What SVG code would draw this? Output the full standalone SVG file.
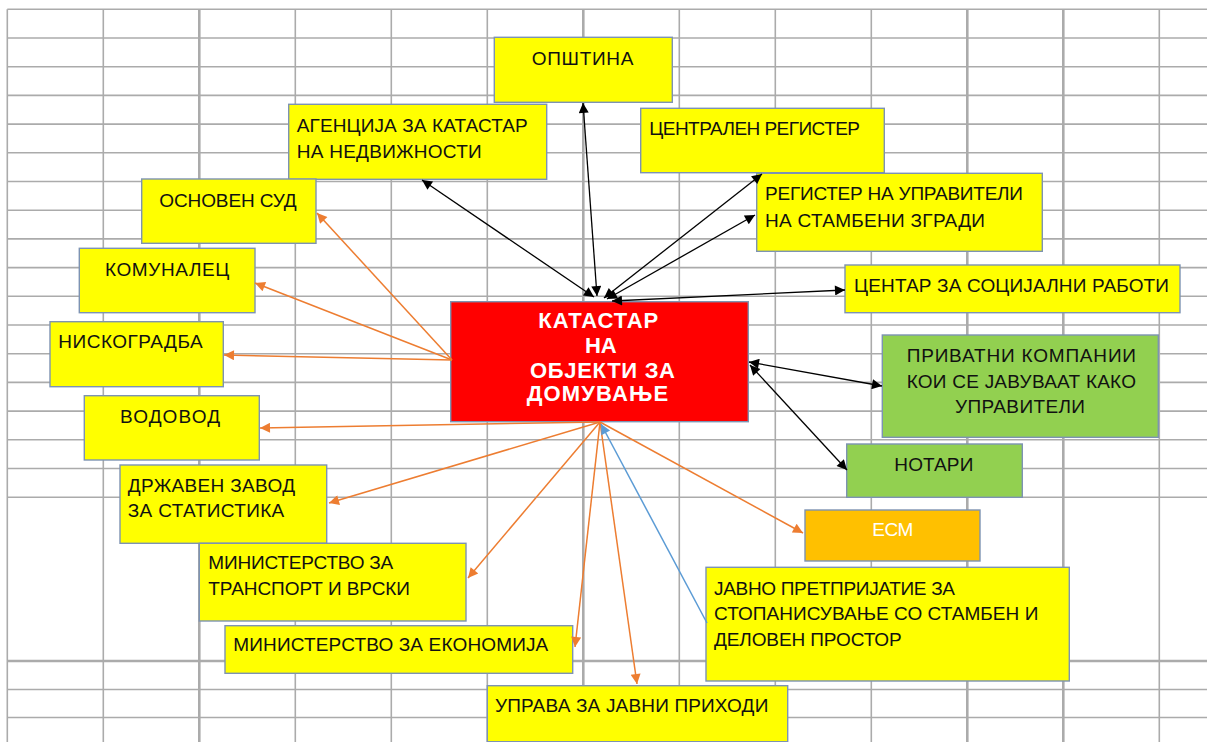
<svg xmlns="http://www.w3.org/2000/svg" width="1207" height="742" viewBox="0 0 1207 742">
<defs>
<style>
.grid line{stroke:#ababab;stroke-width:1.6}
.grid line.thick{stroke-width:2.6}
.box{stroke:#7d93b2;stroke-width:1.4}
.y{fill:#ffff00}
.g{fill:#92d050}
.o{fill:#ffc000}
.r{fill:#ff0000}
.t{font-family:"Liberation Sans",Arial,sans-serif;font-size:19px;fill:#111}
.w{font-family:"Liberation Sans",Arial,sans-serif;font-size:19px;fill:#ffffff}
.c{font-family:"Liberation Sans",Arial,sans-serif;font-size:22px;font-weight:bold;fill:#ffffff}
.kb{stroke:#000;stroke-width:1.3;fill:none;marker-start:url(#ab);marker-end:url(#ab)}
.ko{stroke:#ed7d31;stroke-width:1.5;fill:none;marker-end:url(#ao)}
.kl{stroke:#5b9bd5;stroke-width:1.5;fill:none;marker-end:url(#al)}
</style>
<marker id="ab" viewBox="0 0 10 10" refX="10" refY="5" markerWidth="13" markerHeight="10" markerUnits="userSpaceOnUse" orient="auto-start-reverse"><path d="M0,0 L10,5 L0,10 z" fill="#000"/></marker>
<marker id="ao" viewBox="0 0 10 10" refX="10" refY="5" markerWidth="13" markerHeight="10" markerUnits="userSpaceOnUse" orient="auto"><path d="M0,0 L10,5 L0,10 z" fill="#ed7d31"/></marker>
<marker id="al" viewBox="0 0 10 10" refX="10" refY="5" markerWidth="13" markerHeight="10" markerUnits="userSpaceOnUse" orient="auto"><path d="M0,0 L10,5 L0,10 z" fill="#5b9bd5"/></marker>
</defs>
<rect width="1207" height="742" fill="#ffffff"/>
<g class="grid">
<line x1="7.3" y1="9.3" x2="7.3" y2="742"/>
<line x1="103.3" y1="9.3" x2="103.3" y2="742"/>
<line class="thick" x1="199.3" y1="9.3" x2="199.3" y2="742"/>
<line x1="295.3" y1="9.3" x2="295.3" y2="742"/>
<line x1="391.3" y1="9.3" x2="391.3" y2="742"/>
<line x1="487.3" y1="9.3" x2="487.3" y2="742"/>
<line class="thick" x1="583.3" y1="9.3" x2="583.3" y2="742"/>
<line x1="679.3" y1="9.3" x2="679.3" y2="742"/>
<line x1="775.3" y1="9.3" x2="775.3" y2="742"/>
<line x1="871.3" y1="9.3" x2="871.3" y2="742"/>
<line class="thick" x1="967.3" y1="9.3" x2="967.3" y2="742"/>
<line class="thick" x1="1063.3" y1="9.3" x2="1063.3" y2="742"/>
<line x1="1159.3" y1="9.3" x2="1159.3" y2="742"/>
<line x1="7.3" y1="9.3" x2="1207" y2="9.3"/>
<line x1="7.3" y1="38" x2="1207" y2="38"/>
<line x1="7.3" y1="66.7" x2="1207" y2="66.7"/>
<line x1="7.3" y1="95.4" x2="1207" y2="95.4"/>
<line x1="7.3" y1="124.1" x2="1207" y2="124.1"/>
<line x1="7.3" y1="152.8" x2="1207" y2="152.8"/>
<line x1="7.3" y1="181.5" x2="1207" y2="181.5"/>
<line x1="7.3" y1="210.2" x2="1207" y2="210.2"/>
<line x1="7.3" y1="238.9" x2="1207" y2="238.9"/>
<line x1="7.3" y1="267.6" x2="1207" y2="267.6"/>
<line x1="7.3" y1="296.3" x2="1207" y2="296.3"/>
<line x1="7.3" y1="325" x2="1207" y2="325"/>
<line x1="7.3" y1="353.7" x2="1207" y2="353.7"/>
<line x1="7.3" y1="382.4" x2="1207" y2="382.4"/>
<line x1="7.3" y1="411.1" x2="1207" y2="411.1"/>
<line x1="7.3" y1="439.8" x2="1207" y2="439.8"/>
<line x1="7.3" y1="468.5" x2="1207" y2="468.5"/>
<line x1="7.3" y1="497.2" x2="1207" y2="497.2"/>
<line class="thick" x1="7.3" y1="661" x2="1207" y2="661"/>
<line x1="7.3" y1="689.5" x2="1207" y2="689.5"/>
<line x1="7.3" y1="717.5" x2="1207" y2="717.5"/>
</g>
<g id="nodes">
<g id="opstina"><rect class="box y" x="494.3" y="37.3" width="178" height="65"/><text class="t" x="531.7" y="64.5" textLength="101.7" lengthAdjust="spacing">ОПШТИНА</text></g>
<g id="agencija"><rect class="box y" x="288.7" y="104.3" width="258" height="75"/><text class="t" x="296.7" y="132.3" textLength="231" lengthAdjust="spacing">АГЕНЦИЈА ЗА КАТАСТАР</text><text class="t" x="296.7" y="158.3" textLength="185" lengthAdjust="spacing">НА НЕДВИЖНОСТИ</text></g>
<g id="centralen"><rect class="box y" x="640.7" y="108.3" width="243.6" height="64.4"/><text class="t" x="649.3" y="135" textLength="210.7" lengthAdjust="spacing">ЦЕНТРАЛЕН РЕГИСТЕР</text></g>
<g id="registar"><rect class="box y" x="756.7" y="173.3" width="285.6" height="78"/><text class="t" x="765" y="200" textLength="258" lengthAdjust="spacing">РЕГИСТЕР НА УПРАВИТЕЛИ</text><text class="t" x="765" y="226.7" textLength="220" lengthAdjust="spacing">НА СТАМБЕНИ ЗГРАДИ</text></g>
<g id="osnoven"><rect class="box y" x="141.7" y="179" width="174.3" height="64.3"/><text class="t" x="159.3" y="206.7" textLength="137.4" lengthAdjust="spacing">ОСНОВЕН СУД</text></g>
<g id="komunalec"><rect class="box y" x="79.3" y="248.3" width="175.7" height="64.4"/><text class="t" x="105" y="276" textLength="124.3" lengthAdjust="spacing">КОМУНАЛЕЦ</text></g>
<g id="niskogradba"><rect class="box y" x="50" y="321.7" width="173.3" height="65"/><text class="t" x="58.3" y="348.3" textLength="144.4" lengthAdjust="spacing">НИСКОГРАДБА</text></g>
<g id="vodovod"><rect class="box y" x="84.3" y="395.7" width="175" height="64.3"/><text class="t" x="120" y="422.7" textLength="100" lengthAdjust="spacing">ВОДОВОД</text></g>
<g id="drzaven"><rect class="box y" x="120" y="465" width="206.7" height="78.3"/><text class="t" x="127.7" y="491.7" textLength="167.3" lengthAdjust="spacing">ДРЖАВЕН ЗАВОД</text><text class="t" x="127.7" y="516.7" textLength="156.6" lengthAdjust="spacing">ЗА СТАТИСТИКА</text></g>
<g id="transport"><rect class="box y" x="199.3" y="543.3" width="266.7" height="77.7"/><text class="t" x="208.3" y="569" textLength="185" lengthAdjust="spacing">МИНИСТЕРСТВО ЗА</text><text class="t" x="208.3" y="595" textLength="201.7" lengthAdjust="spacing">ТРАНСПОРТ И ВРСКИ</text></g>
<g id="ekonomija"><rect class="box y" x="225" y="625.7" width="347.7" height="47.6"/><text class="t" x="233.3" y="650.7" textLength="315" lengthAdjust="spacing">МИНИСТЕРСТВО ЗА ЕКОНОМИЈА</text></g>
<g id="uprava"><rect class="box y" x="487.3" y="685.7" width="300.4" height="56"/><text class="t" x="495" y="712.3" textLength="273.3" lengthAdjust="spacing">УПРАВА ЗА ЈАВНИ ПРИХОДИ</text></g>
<g id="javno"><rect class="box y" x="706" y="567.3" width="363.3" height="113.7"/><text class="t" x="714" y="595" textLength="241" lengthAdjust="spacing">ЈАВНО ПРЕТПРИЈАТИЕ ЗА</text><text class="t" x="714" y="620" textLength="324.3" lengthAdjust="spacing">СТОПАНИСУВАЊЕ СО СТАМБЕН И</text><text class="t" x="714" y="646" textLength="187.7" lengthAdjust="spacing">ДЕЛОВЕН ПРОСТОР</text></g>
<g id="esm"><rect class="box o" x="805" y="510" width="175" height="51"/><text class="w" x="872.3" y="536" textLength="41" lengthAdjust="spacing">ЕСМ</text></g>
<g id="notari"><rect class="box g" x="846.7" y="444" width="175.6" height="53.3"/><text class="t" x="894.3" y="470.7" textLength="79" lengthAdjust="spacing">НОТАРИ</text></g>
<g id="privatni"><rect class="box g" x="882.3" y="335" width="276" height="102.3"/><text class="t" x="906.7" y="361.7" textLength="229.3" lengthAdjust="spacing">ПРИВАТНИ КОМПАНИИ</text><text class="t" x="906.7" y="388.3" textLength="229.3" lengthAdjust="spacing">КОИ СЕ ЈАВУВААТ КАКО</text><text class="t" x="955" y="413.3" textLength="130" lengthAdjust="spacing">УПРАВИТЕЛИ</text></g>
<g id="centar"><rect class="box y" x="845" y="265" width="335" height="47.7"/><text class="t" x="854" y="291.7" textLength="315" lengthAdjust="spacing">ЦЕНТАР ЗА СОЦИЈАЛНИ РАБОТИ</text></g>
<g id="katastar"><rect class="box r" x="450.7" y="301.7" width="297.6" height="120"/><text class="c" x="538.3" y="328" textLength="120" lengthAdjust="spacing">КАТАСТАР</text><text class="c" x="585" y="353" textLength="31.7" lengthAdjust="spacing">НА</text><text class="c" x="530" y="377.5" textLength="145" lengthAdjust="spacing">ОБЈЕКТИ ЗА</text><text class="c" x="526.7" y="401" textLength="141.6" lengthAdjust="spacing">ДОМУВАЊЕ</text></g>
</g>
<g id="connectors">
<line class="kb" x1="597" y1="296" x2="583" y2="103"/>
<line class="kb" x1="594" y1="297" x2="422" y2="180"/>
<line class="kb" x1="604" y1="298" x2="762" y2="174"/>
<line class="kb" x1="607" y1="299" x2="755" y2="215"/>
<line class="kb" x1="612" y1="301" x2="845" y2="290"/>
<line class="kb" x1="749" y1="362" x2="882" y2="386"/>
<line class="kb" x1="750" y1="365" x2="847" y2="470"/>
<line class="ko" x1="452" y1="360" x2="317" y2="213"/>
<line class="ko" x1="452" y1="360" x2="255" y2="283"/>
<line class="ko" x1="452" y1="360" x2="224" y2="355"/>
<line class="ko" x1="600" y1="422" x2="260" y2="428"/>
<line class="ko" x1="600" y1="422" x2="329" y2="503"/>
<line class="ko" x1="600" y1="422" x2="468" y2="578"/>
<line class="ko" x1="600" y1="422" x2="575" y2="647"/>
<line class="ko" x1="600" y1="422" x2="637" y2="684"/>
<line class="ko" x1="600" y1="422" x2="803" y2="533"/>
<line class="kl" x1="707" y1="623" x2="601" y2="424"/>
</g>
</svg>
